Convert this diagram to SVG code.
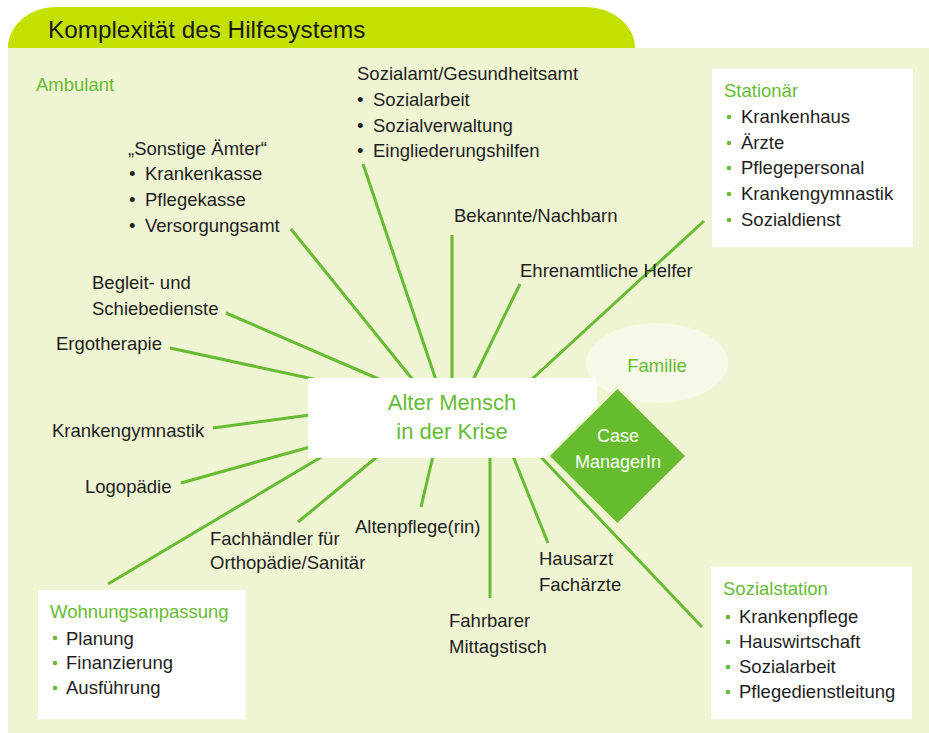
<svg xmlns="http://www.w3.org/2000/svg" width="929" height="733" viewBox="0 0 929 733">
<style>
text{font-family:"Liberation Sans",Arial,sans-serif;}
.t{font-size:18.5px;fill:#1e1e1e;}
.g{font-size:18.5px;fill:#66bb33;}
.c{stroke:#66bb33;stroke-width:3;fill:none;}
.box{fill:#ffffff;}
.dot{fill:#66bb33;}
</style>
<rect x="0" y="0" width="929" height="733" fill="#ffffff"/>
<path d="M8,48 A48,41 0 0 1 56,7 L585,7 A50,41 0 0 1 635,48 Z" fill="#c3e000"/>
<rect x="8" y="48" width="921" height="685" fill="#eff4d2"/>
<text x="48" y="38" style="font-size:24.3px;fill:#1a1a1a">Komplexität des Hilfesystems</text>
<text x="36" y="91" class="g">Ambulant</text>

<g id="connectors">
<line class="c" x1="363" y1="164" x2="436" y2="380"/>
<line class="c" x1="291" y1="229" x2="413" y2="380"/>
<line class="c" x1="452" y1="235" x2="452" y2="380"/>
<line class="c" x1="520" y1="284" x2="473" y2="380"/>
<line class="c" x1="704" y1="221" x2="531" y2="380"/>
<line class="c" x1="226" y1="313" x2="381" y2="380"/>
<line class="c" x1="170" y1="348" x2="318" y2="380"/>
<line class="c" x1="213" y1="428" x2="310" y2="415"/>
<line class="c" x1="181" y1="483" x2="310" y2="447"/>
<line class="c" x1="108" y1="584" x2="323" y2="456"/>
<line class="c" x1="298" y1="522" x2="378" y2="456"/>
<line class="c" x1="421" y1="507" x2="433" y2="456"/>
<line class="c" x1="490" y1="456" x2="490" y2="598"/>
<line class="c" x1="548" y1="543" x2="513" y2="456"/>
<line class="c" x1="540" y1="456" x2="702" y2="627"/>
</g>

<g id="familie">
<ellipse cx="657" cy="363" rx="71" ry="40" fill="#f6f9e7"/>
<text x="657" y="372" class="g" text-anchor="middle">Familie</text>
</g>

<g id="center">
<rect x="308" y="378" width="289" height="80" class="box"/>
<text x="452" y="410" text-anchor="middle" style="font-size:22px;fill:#66bb33">Alter Mensch</text>
<text x="452" y="439" text-anchor="middle" style="font-size:22px;fill:#66bb33">in der Krise</text>
</g>

<g id="casemanager">
<polygon points="617.5,389 685,456 617.5,523 550,456" fill="#66bb2e" stroke="#eff4d2" stroke-width="5"/>
<polygon points="617.5,389 685,456 617.5,523 550,456" fill="#66bb2e"/>
<text x="618" y="442" text-anchor="middle" style="font-size:18px;fill:#ffffff">Case</text>
<text x="618" y="468" text-anchor="middle" style="font-size:18px;fill:#ffffff">ManagerIn</text>
</g>

<g id="sozialamt">
<text x="357" y="80" class="t">Sozialamt/Gesundheitsamt</text>
<text x="357" y="106" class="t">•</text><text x="373" y="106" class="t">Sozialarbeit</text>
<text x="357" y="132" class="t">•</text><text x="373" y="132" class="t">Sozialverwaltung</text>
<text x="357" y="157" class="t">•</text><text x="373" y="157" class="t">Eingliederungshilfen</text>
</g>

<g id="sonstige">
<text x="128" y="155" class="t">„Sonstige Ämter“</text>
<text x="129" y="180" class="t">•</text><text x="145" y="180" class="t">Krankenkasse</text>
<text x="129" y="206" class="t">•</text><text x="145" y="206" class="t">Pflegekasse</text>
<text x="129" y="232" class="t">•</text><text x="145" y="232" class="t">Versorgungsamt</text>
</g>

<g id="bekannte"><text x="454" y="222" class="t">Bekannte/Nachbarn</text></g>
<g id="ehrenamt"><text x="520" y="277" class="t">Ehrenamtliche Helfer</text></g>
<g id="begleit">
<text x="92" y="289" class="t">Begleit- und</text>
<text x="92" y="315" class="t">Schiebedienste</text>
</g>
<g id="ergo"><text x="56" y="350" class="t">Ergotherapie</text></g>
<g id="kg"><text x="52" y="437" class="t">Krankengymnastik</text></g>
<g id="logo"><text x="85" y="493" class="t">Logopädie</text></g>
<g id="fachhaendler">
<text x="210" y="545" class="t">Fachhändler für</text>
<text x="210" y="569" class="t">Orthopädie/Sanitär</text>
</g>
<g id="altenpflege"><text x="355" y="533" class="t">Altenpflege(rin)</text></g>
<g id="hausarzt">
<text x="539" y="565" class="t">Hausarzt</text>
<text x="539" y="591" class="t">Fachärzte</text>
</g>
<g id="mittagstisch">
<text x="449" y="627" class="t">Fahrbarer</text>
<text x="449" y="653" class="t">Mittagstisch</text>
</g>

<g id="stationaer">
<rect x="712" y="69" width="201" height="178" class="box"/>
<text x="724" y="97" class="g">Stationär</text>
<circle cx="729" cy="117" r="2.3" class="dot"/><text x="741" y="123" class="t">Krankenhaus</text>
<circle cx="729" cy="143" r="2.3" class="dot"/><text x="741" y="149" class="t">Ärzte</text>
<circle cx="729" cy="168" r="2.3" class="dot"/><text x="741" y="174" class="t">Pflegepersonal</text>
<circle cx="729" cy="194" r="2.3" class="dot"/><text x="741" y="200" class="t">Krankengymnastik</text>
<circle cx="729" cy="220" r="2.3" class="dot"/><text x="741" y="226" class="t">Sozialdienst</text>
</g>

<g id="sozialstation">
<rect x="711" y="567" width="201" height="152" class="box"/>
<text x="723" y="595" class="g">Sozialstation</text>
<circle cx="728" cy="617" r="2.3" class="dot"/><text x="739" y="623" class="t">Krankenpflege</text>
<circle cx="728" cy="642" r="2.3" class="dot"/><text x="739" y="648" class="t">Hauswirtschaft</text>
<circle cx="728" cy="667" r="2.3" class="dot"/><text x="739" y="673" class="t">Sozialarbeit</text>
<circle cx="728" cy="692" r="2.3" class="dot"/><text x="739" y="698" class="t">Pflegedienstleitung</text>
</g>

<g id="wohnung">
<rect x="38" y="590" width="208" height="129" class="box"/>
<text x="50" y="618" class="g">Wohnungsanpassung</text>
<circle cx="55" cy="638" r="2.3" class="dot"/><text x="66" y="645" class="t">Planung</text>
<circle cx="55" cy="663" r="2.3" class="dot"/><text x="66" y="669" class="t">Finanzierung</text>
<circle cx="55" cy="688" r="2.3" class="dot"/><text x="66" y="694" class="t">Ausführung</text>
</g>
</svg>
